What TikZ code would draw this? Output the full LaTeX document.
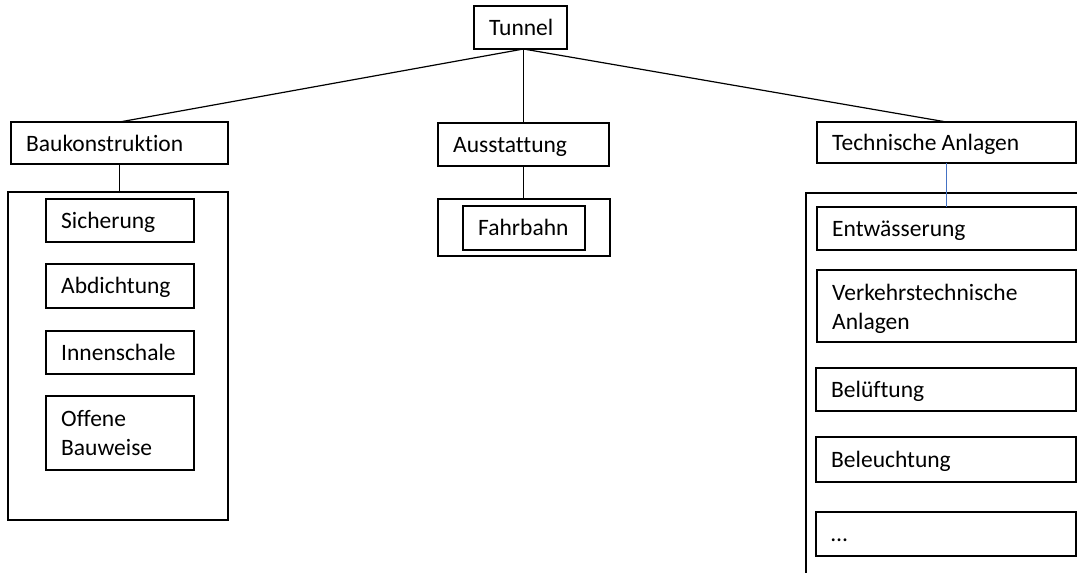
\documentclass[tikz,border=0pt]{standalone}
\usepackage{fontspec}
\setmainfont{Carlito}[Ligatures=NoCommon]
\usetikzlibrary{calc}

\definecolor{linkblue}{RGB}{68,114,196}

\tikzset{
  box/.style={draw=black, line width=1.2pt, inner sep=0pt, outer sep=0pt, anchor=north west},
  lbl/.style={inner sep=0pt, anchor=base west, align=left,
              font=\fontsize{23.5}{29}\selectfont},
  link/.style={draw=black, line width=1.2pt},
}

% \tbox{name}{x1}{y1}{x2}{y2}: empty framed box spanning two corners (pixel units)
\newcommand{\tbox}[5]{%
  \node[box, minimum width={#4pt-#2pt}, minimum height={#5pt-#3pt}] (#1) at (#2,#3) {};}
% \tlabel{name}{shift}{text}: left-aligned text inside box 'name', shift = last baseline below centre
\newcommand{\tlabel}[3]{%
  \node[lbl] (#1-t) at ($(#1.west)+(15,#2)$) {#3};}

\begin{document}
\begin{tikzpicture}[x=1pt, y=-1pt]
  \useasboundingbox (0,0) rectangle (1077,573);
  \clip (0,0) rectangle (1077,573);

  % root
  \tbox{tunnel}{474}{6}{567}{49}
  \tlabel{tunnel}{7.5}{Tunnel}

  % second level
  \tbox{bau}{11}{122}{228}{164}
  \tlabel{bau}{8}{Baukonstruktion}
  \tbox{aus}{438}{123}{609}{166}
  \tlabel{aus}{8}{Ausstattung}
  \tbox{tech}{817}{122}{1076}{163}
  \tlabel{tech}{8}{Technische Anlagen}

  % group frames
  \tbox{baugrp}{8}{192}{228}{520}
  \tbox{ausgrp}{438}{199}{610}{256}
  \tbox{techgrp}{806}{193}{1100}{600}

  % Baukonstruktion items
  \tbox{sich}{46}{199}{194}{242}
  \tlabel{sich}{7.5}{Sicherung}
  \tbox{abd}{46}{264}{194}{308}
  \tlabel{abd}{7.5}{Abdichtung}
  \tbox{inn}{46}{331}{194}{374}
  \tlabel{inn}{7.5}{Innenschale}
  \tbox{off}{46}{396}{194}{470}
  \tlabel{off}{22.5}{Offene\\Bauweise}

  % Ausstattung items
  \tbox{fahr}{463}{206}{585}{250}
  \tlabel{fahr}{7.5}{Fahrbahn}

  % Technische Anlagen items
  \tbox{entw}{817}{207}{1076}{250}
  \tlabel{entw}{7.5}{Entwässerung}
  \tbox{verk}{817}{270}{1076}{342}
  \tlabel{verk}{23}{Verkehrstechnische\\Anlagen}
  \tbox{bel}{816}{368}{1076}{411}
  \tlabel{bel}{7.5}{Belüftung}
  \tbox{leucht}{816}{437}{1076}{482}
  \tlabel{leucht}{7.5}{Beleuchtung}
  \tbox{more}{816}{512}{1076}{556}
  \tlabel{more}{7.5}{…}

  % connectors
  \draw[link] (tunnel.south -| aus.north) -- (bau.north);
  \draw[link] (tunnel.south -| aus.north) -- (aus.north);
  \draw[link] (tunnel.south -| aus.north) -- (tech.north);
  \draw[link] (bau.south) -- (bau.south |- baugrp.north);
  \draw[link] (aus.south) -- (aus.south |- ausgrp.north);
  \draw[draw=linkblue, line width=1.2pt] (tech.south) -- (tech.south |- entw.north);
\end{tikzpicture}
\end{document}
